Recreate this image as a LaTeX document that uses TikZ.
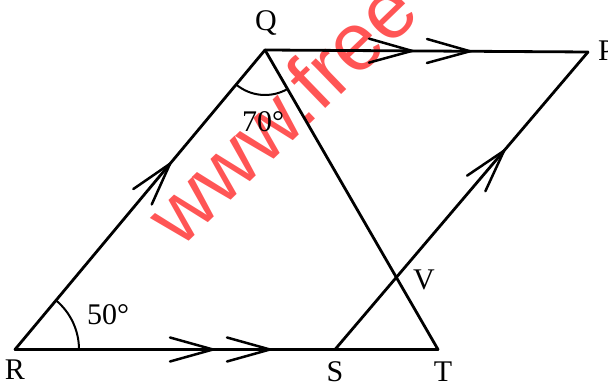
\documentclass[tikz,border=0pt]{standalone}
\usepackage{fontspec}
\setmainfont{Liberation Serif}
\newfontfamily\wmfont{Liberation Sans}
\usetikzlibrary{decorations.markings,angles}
\definecolor{wmred}{RGB}{255,85,85}
\tikzset{
  edge/.style={line width=2.8pt, line cap=round, line join=miter},
  chevAt/.style={postaction={decorate,decoration={markings,
      mark=at position #1 with {\draw[line width=2.5pt, line cap=round, line join=miter] (-43pt,12pt) -- (0pt,0pt) -- (-43pt,-12pt);}}}},
  lbl/.style={font=\fontsize{30}{30}\selectfont, inner sep=0pt},
  anglearc/.style={draw, line width=2pt},
}
\begin{document}
\begin{tikzpicture}[x=1pt,y=1pt]
\useasboundingbox (0,0) rectangle (608,385);
% watermark
\begin{scope}
\clip (0,0) rectangle (608,385);
\node[wmred, font=\wmfont\fontsize{82}{82}\selectfont, inner sep=0pt, outer sep=0pt,
      rotate=44, anchor=base west] (wm) at (180,135) {www.free};
\end{scope}
% points
\coordinate (R) at (15,35.5);
\coordinate (Q) at (265,335);
\coordinate (P) at (588,333);
\coordinate (S) at (335,35.5);
\coordinate (T) at (438,35.5);
\coordinate (V) at (intersection of Q--T and S--P);
% lines
\draw[edge, chevAt=242pt] (R) -- (Q);
\draw[edge, chevAt=147pt, chevAt=205pt] (Q) -- (P);
\draw[edge, chevAt=198pt, chevAt=255pt] (R) -- (T);
\draw[edge] (Q) -- (T);
\draw[edge, chevAt=261pt] (S) -- (P);
% angles
\pic[anglearc, angle radius=45pt] {angle = R--Q--T};
\pic[anglearc, angle radius=64pt] {angle = T--R--Q};
% labels
\node[lbl] (lQ) at (266,362) {Q};
\node[lbl] (lR) at (15,15) {R};
\node[lbl] (lS) at (335,13) {S};
\node[lbl] (lT) at (443,13) {T};
\node[lbl] (lV) at (424,105) {V};
\node[lbl, anchor=west] (lP) at (598,334) {P};
\node[lbl] (a70) at (263,263) {70°};
\node[lbl] (a50) at (108,70) {50°};
\end{tikzpicture}
\end{document}
